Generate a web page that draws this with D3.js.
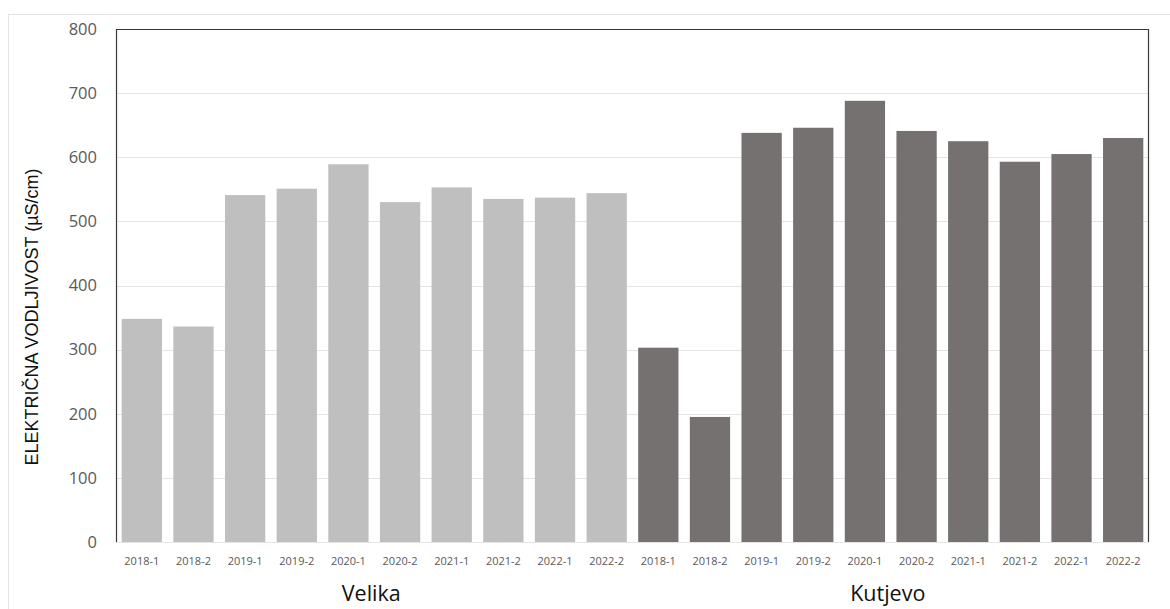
<!DOCTYPE html>
<html>
<head>
<meta charset="utf-8">
<script src="https://cdn.jsdelivr.net/npm/d3@7"></script>
<style>
  body { margin: 0; background: #fff; }
  svg { display: block; }
</style>
</head>
<body>
<div id="chart"></div>
<script>
const width = 1170;
const height = 609;
const margin = { top: 29, right: 21, bottom: 67, left: 116 };

const periods = ['2018-1', '2018-2', '2019-1', '2019-2', '2020-1', '2020-2', '2021-1', '2021-2', '2022-1', '2022-2'];
const groups = ['Velika', 'Kutjevo'];
const velika = [348, 336, 541, 551, 589, 530, 553, 535, 537, 544];
const kutjevo = [303, 195, 638, 646, 688, 641, 625, 593, 605, 630];
const yTicks = [0, 100, 200, 300, 400, 500, 600, 700, 800];
const colors = { Velika: '#bfbfbf', Kutjevo: '#767171' };

const data = []
groups.forEach((g, gi) => {
    const vals = gi === 0 ? velika : kutjevo
    periods.forEach((p, i) => data.push({ key: g + '|' + p, group: g, period: p, value: vals[i] }))
})

const x = d3.scaleBand()
    .domain(data.map(d => d.key))
    .range([margin.left, width - margin.right])
    .paddingInner(0.22)
    .paddingOuter(0.11);

const y = d3.scaleLinear()
    .domain([0, 800])
    .range([height - margin.bottom, margin.top]);

const svg = d3.select('#chart')
    .append('svg')
    .attr('width', width)
    .attr('height', height);

// outer frame
svg.append('rect')
    .attr('x', 8.5).attr('y', 14.5)
    .attr('width', 1300).attr('height', 700)
    .attr('fill', 'none')
    .attr('stroke', '#e3e3e3');

// gridlines
svg.append('g')
    .selectAll('line')
    .data(yTicks)
    .join('line')
    .attr('x1', margin.left).attr('x2', width - margin.right)
    .attr('y1', d => Math.round(y(d)) + 0.5).attr('y2', d => Math.round(y(d)) + 0.5)
    .attr('stroke', '#e4e4e4');

// bars
svg.append('g')
    .selectAll('rect')
    .data(data)
    .join('rect')
    .attr('x', d => x(d.key))
    .attr('width', x.bandwidth())
    .attr('y', d => y(d.value))
    .attr('height', d => y(0) - y(d.value))
    .attr('fill', d => colors[d.group]);

// plot border (left, top, right)
svg.append('path')
    .attr('d', `M${margin.left + 0.5},${y(0)}V${margin.top + 0.5}H${width - margin.right - 0.5}V${y(0)}`)
    .attr('fill', 'none')
    .attr('stroke', '#3a3a3a')
    .attr('stroke-width', 1.2);

// y axis labels
const yAxis = g => g
    .attr('transform', `translate(${margin.left},0)`)
    .call(d3.axisLeft(y).tickValues(yTicks).tickSize(0).tickPadding(19))
    .call(g => g.select('.domain').remove())
    .call(g => g.selectAll('text')
        .attr('fill', '#595959')
        .style('font-family', '"Open Sans", sans-serif')
        .style('font-size', '16.5px'));
svg.append('g').call(yAxis);

// x axis labels
const xAxis = g => g
    .attr('transform', `translate(0,${y(0)})`)
    .call(d3.axisBottom(x).tickSize(0).tickPadding(15).tickFormat(k => k.split('|')[1]))
    .call(g => g.select('.domain').remove())
    .call(g => g.selectAll('text')
        .attr('fill', '#595959')
        .style('font-family', '"Open Sans", sans-serif')
        .style('font-size', '11px'));
svg.append('g').call(xAxis);

// group labels
svg.append('g')
    .selectAll('text')
    .data(groups)
    .join('text')
    .attr('x', g => {
        const keys = data.filter(d => d.group === g).map(d => d.key)
        return (x(keys[0]) + x(keys[keys.length - 1]) + x.bandwidth()) / 2 - 3
    })
    .attr('y', 601)
    .attr('text-anchor', 'middle')
    .attr('fill', '#111')
    .style('font-family', '"Open Sans", sans-serif')
    .style('font-size', '21.5px')
    .text(g => g);

// y title
svg.append('text')
    .attr('transform', `translate(38,317) rotate(-90)`)
    .attr('text-anchor', 'middle')
    .attr('fill', '#111')
    .style('font-family', '"Liberation Sans", Arial, sans-serif')
    .style('font-size', '18px')
    .text('ELEKTRIČNA VODLJIVOST (µS/cm)');
</script>
</body>
</html>
